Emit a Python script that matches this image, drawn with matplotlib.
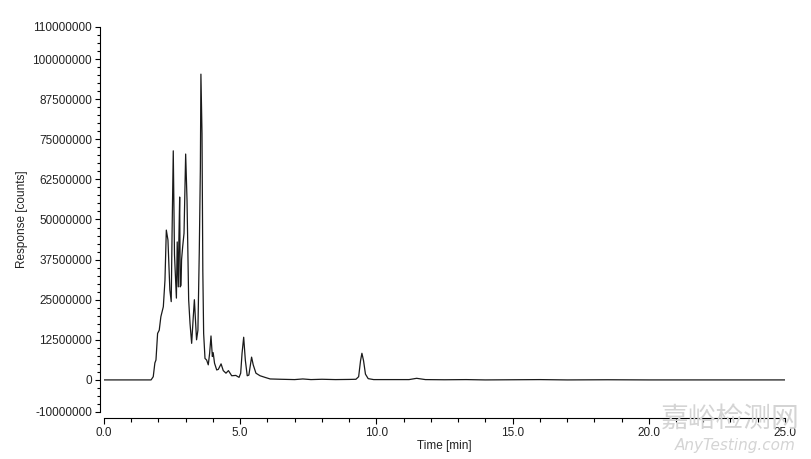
import matplotlib.pyplot as plt
from matplotlib.ticker import MultipleLocator, FixedLocator

# chromatogram trace (time in min, response in counts)
time_min = [0.0, 1.0, 1.73, 1.81, 1.87, 1.91, 1.97, 2.03, 2.09, 2.18, 2.24, 2.29,
            2.35, 2.42, 2.47, 2.50, 2.545, 2.59, 2.66, 2.69, 2.73, 2.75, 2.78,
            2.80, 2.83, 2.85, 2.89, 2.94, 3.00, 3.05, 3.11, 3.16, 3.22, 3.28,
            3.32, 3.36, 3.40, 3.45, 3.50, 3.54, 3.56, 3.60, 3.63, 3.66, 3.71,
            3.77, 3.83, 3.88, 3.93, 3.98, 4.01, 4.06, 4.14, 4.20, 4.30, 4.38,
            4.48, 4.57, 4.69, 4.84, 4.96, 5.02, 5.07, 5.13, 5.19, 5.26, 5.32,
            5.42, 5.48, 5.58, 5.73, 5.91, 6.10, 6.5, 7.0, 7.3, 7.6, 8.0, 8.5,
            9.0, 9.25, 9.35, 9.42, 9.47, 9.53, 9.60, 9.70, 9.90, 10.5, 11.2,
            11.48, 11.8, 12.5, 13.3, 14.0, 15.0, 16.0, 17.0, 18.5, 20.0, 22.0,
            25.0]
response_m = [0.0, 0.0, 0.0, 1.0, 5.3, 6.2, 14.5, 15.5, 19.7, 22.8, 31.0, 46.7,
              43.6, 28.0, 24.4, 45.0, 71.4, 39.0, 25.5, 43.0, 29.0, 43.0, 57.0,
              29.0, 29.5, 37.5, 41.5, 45.7, 70.4, 56.0, 25.0, 17.6, 11.4, 19.7,
              25.0, 18.7, 12.5, 15.5, 40.0, 66.0, 95.3, 76.8, 34.0, 14.5, 6.7,
              6.2, 4.7, 8.3, 13.7, 7.3, 8.5, 5.2, 3.1, 3.3, 5.0, 2.9,
              2.1, 2.9, 1.3, 1.4, 0.8, 2.1, 8.3, 13.3, 6.2, 1.3, 1.5,
              7.1, 4.7, 2.1, 1.3, 0.8, 0.3, 0.2, 0.1, 0.3, 0.1, 0.2, 0.1,
              0.15, 0.2, 1.0, 6.0, 8.3, 6.0, 1.8, 0.4, 0.1, 0.1, 0.1,
              0.5, 0.1, 0.05, 0.1, 0.0, 0.05, 0.1, 0.0, 0.05, 0.0, 0.0,
              0.0]
response = [v * 1e6 for v in response_m]

y_ticks = [-10000000, 0, 12500000, 25000000, 37500000, 50000000, 62500000,
           75000000, 87500000, 100000000, 110000000]
x_ticks = [0, 5, 10, 15, 20, 25]

plt.rcParams['font.family'] = ['Liberation Sans', 'DejaVu Sans']
fig = plt.figure(figsize=(8.12, 4.59), dpi=100)
ax = fig.add_axes([0.128, 0.1024, 0.8387, 0.8388])

ax.plot(time_min, response, color='#1a1a1a', lw=0.9)

ax.set_xlim(0, 25)
ax.set_ylim(-10000000, 110000000)
ax.xaxis.set_major_locator(FixedLocator(x_ticks))
ax.xaxis.set_minor_locator(MultipleLocator(1))
ax.yaxis.set_major_locator(FixedLocator(y_ticks))
ax.yaxis.set_minor_locator(MultipleLocator(2500000))
ax.set_xticklabels([f"{t:.1f}" for t in x_ticks])
ax.set_yticklabels([str(v) for v in y_ticks])

for s in ['top', 'right']:
    ax.spines[s].set_visible(False)
ax.spines['left'].set_position(('outward', 3))
ax.spines['bottom'].set_position(('outward', 4))
ax.spines['left'].set_linewidth(0.8)
ax.spines['bottom'].set_linewidth(0.8)

ax.tick_params(axis='both', which='major', labelsize=8.5, width=0.8, pad=2,
               labelcolor='#222222')
ax.tick_params(axis='y', which='major', length=3.5)
ax.tick_params(axis='y', which='minor', length=2, width=0.8)
ax.tick_params(axis='x', which='major', length=4.5)
ax.tick_params(axis='x', which='minor', length=3, width=0.8)

ax.set_xlabel("Time [min]", fontsize=8.5, labelpad=1, color='#222222')
ax.set_ylabel("Response [counts]", fontsize=8.5, labelpad=3, color='#222222')

# watermark
fig.text(0.985, 0.055, "嘉峪检测网", fontsize=20, color='#d4d4d4', ha='right',
         va='bottom', family=['Noto Sans CJK SC', 'DejaVu Sans'], zorder=0)
fig.text(0.98, 0.012, "AnyTesting.com", fontsize=11, color='#d4d4d4', ha='right',
         va='bottom', style='italic', family=['DejaVu Sans'], zorder=0)

plt.savefig("out.png", dpi=100)
